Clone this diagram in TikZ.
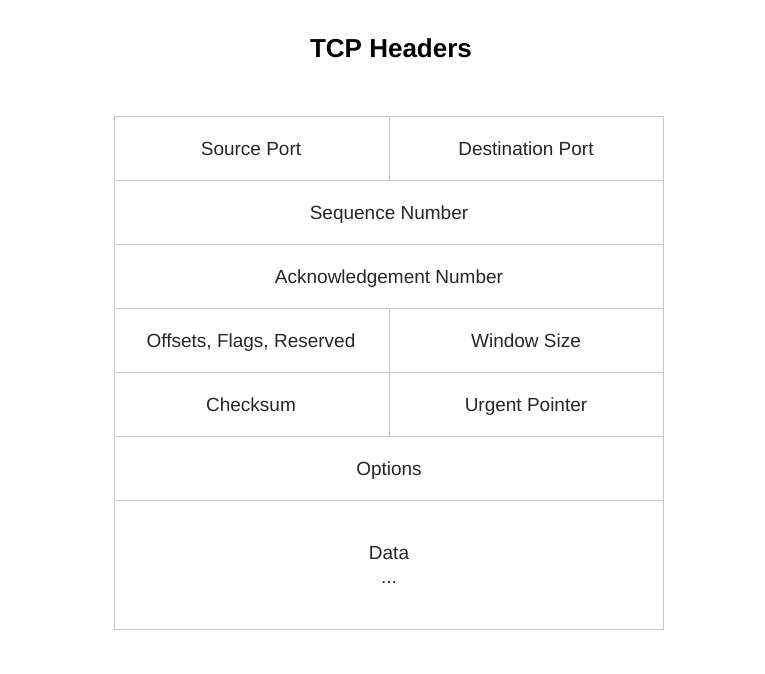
\documentclass[tikz,border=0pt]{standalone}
\usepackage{fontspec}
\setmainfont{Liberation Sans}
\definecolor{gridgray}{RGB}{200,200,200}

\begin{document}
\begin{tikzpicture}[x=1pt, y=-1pt,
    field/.style = {font=\fontsize{19}{22}\selectfont, text=black!85,
                    text height=13.7pt, text depth=0pt, inner sep=0pt},
    title/.style = {font=\fontsize{26}{30}\selectfont\bfseries}]
                \useasboundingbox (0,0) rectangle (765,673);
                \node[title] (T) at (391,48) {TCP Headers};
                \draw[gridgray] (114,116) rectangle (663,629);
                \draw[gridgray] (114,180) -- (663,180);
                \draw[gridgray] (114,244) -- (663,244);
                \draw[gridgray] (114,308) -- (663,308);
                \draw[gridgray] (114,372) -- (663,372);
                \draw[gridgray] (114,436) -- (663,436);
                \draw[gridgray] (114,500) -- (663,500);
                \draw[gridgray] (389,116) -- (389,180);
                \draw[gridgray] (389,308) -- (389,436);
                \node[field] (SP) at (251,148.5) {Source Port};
                \node[field] (DP) at (526,148.5) {Destination Port};
                \node[field] (SN) at (389,212.5) {Sequence Number};
                \node[field] (AN) at (389,276.5) {Acknowledgement Number};
                \node[field] (OF) at (251,340.5) {Offsets, Flags, Reserved};
                \node[field] (WS) at (526,340.5) {Window Size};
                \node[field] (CS) at (251,404.5) {Checksum};
                \node[field] (UP) at (526,404.5) {Urgent Pointer};
                \node[field] (OP) at (389,468.5) {Options};
                \node[field] (DA) at (389,552.5) {Data};
                \node[field, anchor=base] (DD) at (389,583) {...};
\end{tikzpicture}
\end{document}
